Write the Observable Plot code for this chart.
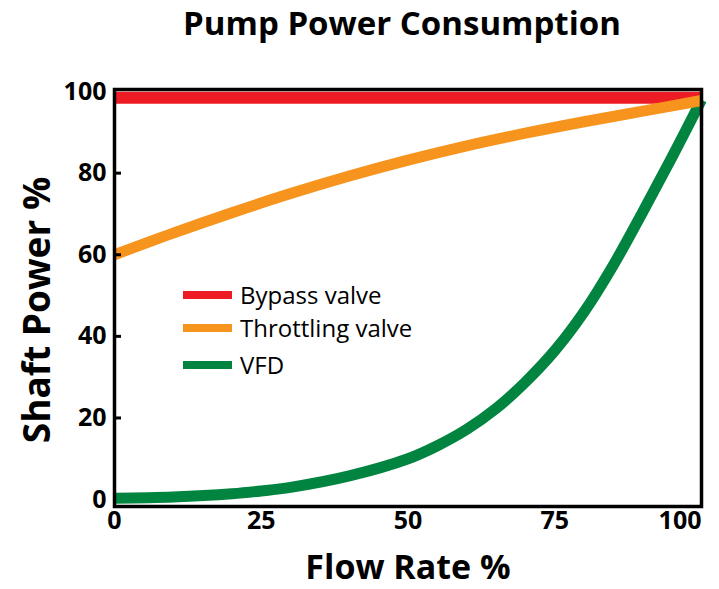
<!DOCTYPE html>
<html>
<head>
<meta charset="utf-8">
<script src="https://cdn.jsdelivr.net/npm/d3@7"></script>
<script src="https://cdn.jsdelivr.net/npm/@observablehq/plot@0.6"></script>
<style>
  body { margin: 0; background: #fff; font-family: "Open Sans", sans-serif; }
  #wrap { position: relative; width: 719px; height: 589px; overflow: hidden; }
  #title { position: absolute; left: 402px; top: 0px; transform: translateX(-50%); white-space: nowrap;
           font-size: 33px; font-weight: 700; line-height: normal; color: #000; }
  #chart { position: absolute; left: 0; top: 64px; }
  #xlabel { position: absolute; left: 408px; top: 543px; transform: translateX(-50%); white-space: nowrap;
            font-size: 34px; font-weight: 700; line-height: normal; color: #000; }
  #ylabel { position: absolute; left: 35px; top: 310px; transform: translate(-50%, -50%) rotate(-90deg);
            white-space: nowrap; font-size: 37px; font-weight: 700; line-height: 1; color: #000; }
  .lrow { position: absolute; left: 183px; height: 30px; display: flex; align-items: center; }
  .sw { width: 49px; height: 8px; margin-right: 8px; }
  .lt { font-size: 24px; line-height: 1; color: #000; white-space: nowrap; }
</style>
</head>
<body>
<div id="wrap">
  <div id="title">Pump Power Consumption</div>
  <div id="chart"></div>
  <div id="xlabel">Flow Rate %</div>
  <div id="ylabel">Shaft Power %</div>
  <div id="legend"></div>
</div>
<script>
// Series data (Flow Rate %, Shaft Power %)
const bypassFlow = [0, 100];
const bypassPower = [98.5, 98.5];

const throttleFlow = [0, 10, 20, 30, 40, 50, 60, 70, 80, 90, 100];
const throttlePower = [60, 65.3, 70.3, 75, 79.3, 83.2, 86.7, 89.8, 92.6, 95.2, 97.8];

const vfdFlow = [0, 10, 20, 25, 30, 40, 50, 55, 60, 65, 70, 75, 80, 85, 90, 95, 100];
const vfdPower = [0.3, 0.6, 1.4, 2.1, 3.0, 5.8, 10, 13.2, 17.2, 22.3, 28.8, 36.5, 46, 57.5, 70.5, 84, 98];

const seriesNames = ["Bypass valve", "Throttling valve", "VFD"];
const seriesColors = ["#ED1C24", "#F7941D", "#00843F"];

const xTicks = [0, 25, 50, 75];
const xTickLast = [100];
const yTicks = [0, 20, 40, 60, 80, 100];
const yInnerTicks = [20, 40, 60, 80];

const toRows = (xs, ys) => xs.map((x, i) => ({x, y: ys[i]}));
const bypass = toRows(bypassFlow, bypassPower);
const throttle = toRows(throttleFlow, throttlePower);
const vfd = toRows(vfdFlow, vfdPower);

const plot = Plot.plot({
  width: 719,
  height: 525,
  marginTop: 25,
  marginBottom: 83,
  marginLeft: 114,
  marginRight: 18,
  x: {domain: [0, 100]},
  y: {domain: [-1.7, 100.5]},
  style: {fontFamily: "Open Sans", background: "white", color: "black", overflow: "visible"},
  marks: [
    Plot.line(bypass, {x: "x", y: "y", stroke: seriesColors[0], strokeWidth: 12, strokeLinecap: "butt"}),
    Plot.line(vfd, {x: "x", y: "y", stroke: seriesColors[2], strokeWidth: 11, strokeLinecap: "butt", curve: "catmull-rom"}),
    Plot.line(throttle, {x: "x", y: "y", stroke: seriesColors[1], strokeWidth: 11, strokeLinecap: "butt", curve: "catmull-rom"}),
    Plot.frame({stroke: "black", strokeWidth: 3.5}),
    Plot.axisY({ticks: yInnerTicks, tickSize: -7, strokeWidth: 3, text: null, label: null}),
    Plot.axisY({ticks: yTicks, tickSize: 0, tickPadding: 8, fontSize: 25, fontWeight: "bold", label: null}),
    Plot.axisX({ticks: xTicks, tickSize: 0, tickPadding: 5, fontSize: 25, fontWeight: "bold", label: null}),
    Plot.axisX({ticks: xTickLast, tickSize: 0, tickPadding: 5, fontSize: 25, fontWeight: "bold", textAnchor: "end", label: null})
  ]
});
document.getElementById("chart").append(plot);

// Legend (inside the plot area, as in the reference)
const legendTops = [280, 313, 350];
const legend = document.getElementById("legend");
seriesNames.forEach((name, i) => {
  const row = document.createElement("div");
  row.className = "lrow";
  row.style.top = legendTops[i] + "px";
  const sw = document.createElement("div");
  sw.className = "sw";
  sw.style.background = seriesColors[i];
  const t = document.createElement("span");
  t.className = "lt";
  t.textContent = name;
  row.append(sw, t);
  legend.append(row);
});
</script>
</body>
</html>
